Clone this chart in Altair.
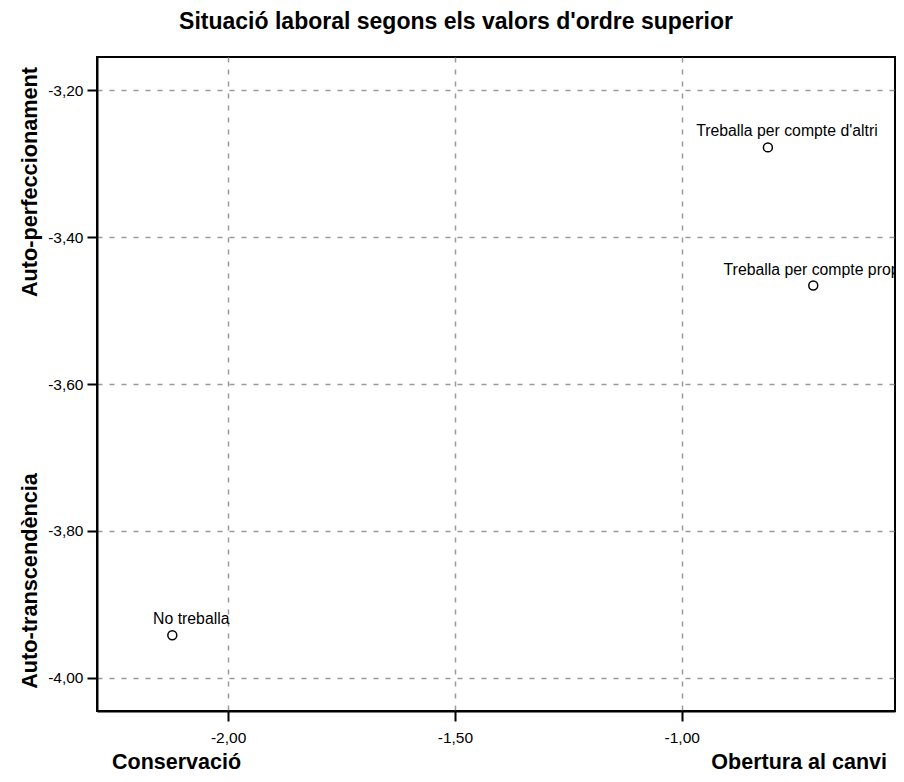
import altair as alt
import pandas as pd

# Data
labels = ["Treballa per compte d'altri", "Treballa per compte propi", "No treballa"]
x_vals = [-0.810, -0.710, -2.123]
y_vals = [-3.278, -3.466, -3.942]

x_ticks = [-2.0, -1.5, -1.0]
y_ticks = [-3.2, -3.4, -3.6, -3.8, -4.0]

title_text = "Situació laboral segons els valors d'ordre superior"
x_title_left = "Conservació"
x_title_right = "Obertura al canvi"
y_title_top = "Auto-perfeccionament"
y_title_bottom = "Auto-transcendència"

df = pd.DataFrame({"label": labels, "x": x_vals, "y": y_vals})

FONT = "Liberation Sans"
W, H = 798, 654

label_expr = "(datum.value < 0 ? '-' : '') + replace(format(abs(datum.value), '.2f'), '.', ',')"

common_axis = dict(title=None, labelExpr=label_expr,
                   grid=True, gridDash=[5, 7], gridColor="#9a9a9a", gridWidth=1.5,
                   domainColor="black", domainWidth=2, tickColor="black", tickWidth=2,
                   tickSize=10, labelFont=FONT, labelFontSize=15.5, labelColor="black")

x_enc = alt.X("x:Q", scale=alt.Scale(domain=[-2.289, -0.5298], nice=False, zero=False),
              axis=alt.Axis(values=x_ticks, labelPadding=9, **common_axis))
y_enc = alt.Y("y:Q", scale=alt.Scale(domain=[-4.045, -3.155], nice=False, zero=False),
              axis=alt.Axis(values=y_ticks, labelPadding=4, **common_axis))

base = alt.Chart(df)

points = base.mark_point(shape="circle", filled=False, color="black", size=80,
                         strokeWidth=1.5, opacity=1).encode(x=x_enc, y=y_enc)

label_dx = {"Treballa per compte d'altri": 19, "Treballa per compte propi": 0, "No treballa": 19}
label_layers = []
for lab, dx in label_dx.items():
    label_layers.append(
        base.transform_filter(alt.datum.label == lab)
        .mark_text(font=FONT, fontSize=15.8, color="black", align="center",
                   baseline="alphabetic", dx=dx, dy=-11, clip=True)
        .encode(x="x:Q", y="y:Q", text="label:N")
    )

def annot(text, x, y, size, angle=0, align="center", baseline="alphabetic"):
    return alt.Chart(pd.DataFrame({"t": [text]})).mark_text(
        font=FONT, fontSize=size, fontWeight="bold", color="black",
        angle=angle, align=align, baseline=baseline
    ).encode(x=alt.value(x), y=alt.value(y), text="t:N")

title = annot(title_text, 359, -28, 23)
xl = annot(x_title_left, 15, 712, 21.5, align="left")
xr = annot(x_title_right, 790, 712, 21.5, align="right")
yt = annot(y_title_top, -67, 125, 21.7, angle=270, baseline="middle")
yb = annot(y_title_bottom, -67, 524, 21.7, angle=270, baseline="middle")

chart = alt.layer(points, *label_layers, title, xl, xr, yt, yb).properties(
    width=W, height=H,
    background="white",
    autosize=alt.AutoSizeParams(type="none"),
    padding={"left": 89, "top": 49, "right": 1, "bottom": 63},
).configure_view(stroke="black", strokeWidth=2)

chart.save("out.html", embed_options={"renderer": "svg", "actions": False})
